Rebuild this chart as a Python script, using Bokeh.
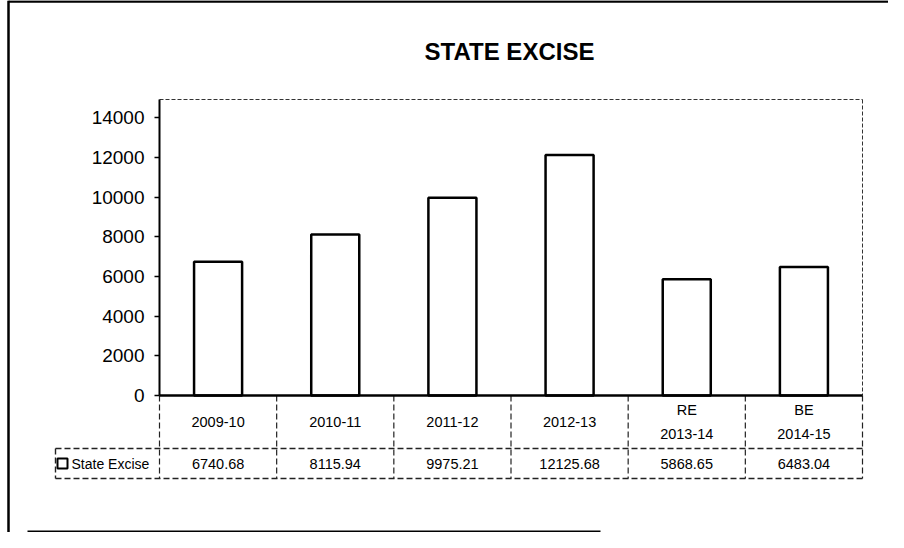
from bokeh.plotting import figure
from bokeh.models import Range1d, LinearAxis, FixedTicker
from bokeh.core.properties import value
from bokeh.embed import file_html
from bokeh.resources import INLINE

# ---- data ----
title_text = "STATE EXCISE"
series_name = "State Excise"
categories = ["2009-10", "2010-11", "2011-12", "2012-13", "RE\n2013-14", "BE\n2014-15"]
values = [6740.68, 8115.94, 9975.21, 12125.68, 5868.65, 6483.04]
y_ticks = [0, 2000, 4000, 6000, 8000, 10000, 12000, 14000]

# ---- layout (figure pixels) ----
W, H = 888, 532
PLOT_L, PLOT_R, PLOT_T, PLOT_B = 159, 862, 99, 395
Y_TICK_TOP_PX = 117.4
ROW1_B, ROW2_B, LEG_L = 448, 478, 55
n = len(categories)
cat_w = (PLOT_R - PLOT_L) / n
k = (PLOT_B - Y_TICK_TOP_PX) / y_ticks[-1]
y_top = (PLOT_B - PLOT_T) / k

TFONT = "Liberation Sans"

p = figure(width=W, height=H, output_backend="svg", toolbar_location=None,
           x_range=Range1d(-PLOT_L / cat_w, (W - PLOT_L) / cat_w),
           y_range=Range1d(-(H - PLOT_B) / k, PLOT_B / k),
           x_axis_location=None, y_axis_location=None,
           min_border=0, outline_line_color=None,
           background_fill_color="white", border_fill_color="white")
p.grid.visible = False
p.extra_x_ranges = {"px": Range1d(0, W)}
p.extra_y_ranges = {"px": Range1d(H, 0)}

# outer frame of the scanned page
p.segment(x0=[8, 8, 27], y0=[0, 1, 531], x1=[8, W, 600], y1=[H, 1, 531],
          line_color="black", line_width=[2.5, 2.5, 2],
          x_range_name="px", y_range_name="px")

# title
p.text(x=[509], y=[51], text=[title_text], text_font=value(TFONT),
       text_font_style="bold", text_font_size="24px", text_color="black",
       text_align="center", text_baseline="middle",
       x_range_name="px", y_range_name="px")

# plot area dashed border (top & right)
p.segment(x0=[PLOT_L, PLOT_R], y0=[PLOT_T, PLOT_T], x1=[PLOT_R, PLOT_R], y1=[PLOT_T, PLOT_B],
          line_color="#333333", line_width=1, line_dash="4 2",
          x_range_name="px", y_range_name="px")

# bars
xs = [i + 0.5 for i in range(n)]
p.vbar(x=xs, top=values, bottom=0, width=0.41, fill_color="white",
       line_color="black", line_width=2.5)

# axes
yax = LinearAxis(fixed_location=0, bounds=(0, y_top),
                 ticker=FixedTicker(ticks=y_ticks, minor_ticks=[]),
                 axis_line_color="black", axis_line_width=2,
                 major_tick_out=5, major_tick_in=0, minor_tick_out=0, minor_tick_in=0,
                 major_tick_line_color="black", major_tick_line_width=1.5,
                 major_label_text_font=TFONT, major_label_text_font_size="19px",
                 major_label_text_color="black", major_label_standoff=10)
p.add_layout(yax, "left")

xax = LinearAxis(fixed_location=0, bounds=(0, n), ticker=FixedTicker(ticks=[], minor_ticks=[]),
                 axis_line_color="black", axis_line_width=2.5,
                 major_tick_out=0, major_tick_in=0, minor_tick_out=0, minor_tick_in=0)
p.add_layout(xax, "below")

# data table lines
vx = [PLOT_L + i * cat_w for i in range(n + 1)]
p.segment(x0=vx, y0=[PLOT_B] * (n + 1), x1=vx, y1=[ROW2_B] * (n + 1),
          line_color="#222222", line_width=1.2, line_dash="6 3",
          x_range_name="px", y_range_name="px")
p.segment(x0=[LEG_L, LEG_L, LEG_L], y0=[ROW1_B, ROW2_B, ROW1_B],
          x1=[PLOT_R, PLOT_R, LEG_L], y1=[ROW1_B, ROW2_B, ROW2_B],
          line_color="#222222", line_width=1.4, line_dash="6 3",
          x_range_name="px", y_range_name="px")

# category row
p.text(x=xs, y=[(PLOT_B + ROW1_B) / 2] * n, text=categories,
       text_font=value(TFONT), text_font_size="14.5px", text_color="black",
       text_align="center", text_baseline="middle", text_line_height=1.45,
       y_range_name="px")

# value row
p.text(x=xs, y=[(ROW1_B + ROW2_B) / 2] * n, text=[f"{v:.2f}" for v in values],
       text_font=value(TFONT), text_font_size="14.5px", text_color="black",
       text_align="center", text_baseline="middle",
       y_range_name="px")

# legend key in table
p.scatter(x=[62], y=[(ROW1_B + ROW2_B) / 2], marker="square", size=10,
          fill_color="white", line_color="black", line_width=2,
          x_range_name="px", y_range_name="px")
p.text(x=[71], y=[(ROW1_B + ROW2_B) / 2], text=[series_name],
       text_font=value(TFONT), text_font_size="14px", text_color="black",
       text_align="left", text_baseline="middle",
       x_range_name="px", y_range_name="px")

open("out.html", "w").write(file_html(p, INLINE))
